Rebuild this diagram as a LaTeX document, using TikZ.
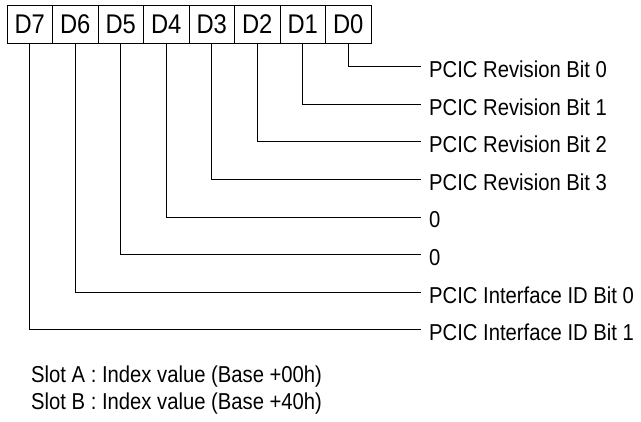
\documentclass[tikz,border=0pt]{standalone}
\usepackage{fontspec}
\setmainfont[FakeStretch=0.88]{Liberation Sans}
\usetikzlibrary{positioning}
\tikzset{
  bit/.style={rectangle,draw,line width=1pt,minimum width=45.5pt,minimum height=37.6pt,inner sep=0pt,outer sep=0pt,font=\fontsize{27}{31}\selectfont},
  lien/.style={line width=1pt},
  etiq/.style={anchor=base west,inner sep=0pt,font=\fontsize{23}{27}\selectfont}
}
\begin{document}
\begin{tikzpicture}[x=1pt,y=-1pt]
\useasboundingbox (0,0) rectangle (641,422);
% le registre : une case par bit
\node (d7) at (29.75,24.5) [bit] {D7};
\node (d6) [bit,right=0pt of d7] {D6};
\node (d5) [bit,right=0pt of d6] {D5};
\node (d4) [bit,right=0pt of d5] {D4};
\node (d3) [bit,right=0pt of d4] {D3};
\node (d2) [bit,right=0pt of d3] {D2};
\node (d1) [bit,right=0pt of d2] {D1};
\node (d0) [bit,right=0pt of d1] {D0};

% bouts des traits horizontaux
\coordinate (e0) at (421,66.7);
\coordinate (e1) at (421,104.3);
\coordinate (e2) at (421,141.9);
\coordinate (e3) at (421,179.5);
\coordinate (e4) at (421,217.1);
\coordinate (e5) at (421,254.7);
\coordinate (e6) at (421,292.3);
\coordinate (e7) at (421,329.9);

% libelles
\node (l0) at (429,77.5) [etiq] {PCIC Revision Bit 0};
\node (l1) at (429,115.1) [etiq] {PCIC Revision Bit 1};
\node (l2) at (429,152.7) [etiq] {PCIC Revision Bit 2};
\node (l3) at (429,190.3) [etiq] {PCIC Revision Bit 3};
\node (l4) at (429,227.9) [etiq] {0};
\node (l5) at (429,265.5) [etiq] {0};
\node (l6) at (429,303.1) [etiq] {PCIC Interface ID Bit 0};
\node (l7) at (429,340.7) [etiq] {PCIC Interface ID Bit 1};

% |- depart vertical arrivee horizontale
\draw[lien] (d0.south) |- (e0);
\draw[lien] (d1.south) |- (e1);
\draw[lien] (d2.south) |- (e2);
\draw[lien] (d3.south) |- (e3);
\draw[lien] (d4.south) |- (e4);
\draw[lien] (d5.south) |- (e5);
\draw[lien] (d6.south) |- (e6);
\draw[lien] (d7.south) |- (e7);

\node (slota) at (31,383) [etiq] {Slot A : Index value (Base +00h)};
\node (slotb) at (31,410) [etiq] {Slot B : Index value (Base +40h)};
\end{tikzpicture}
\end{document}
